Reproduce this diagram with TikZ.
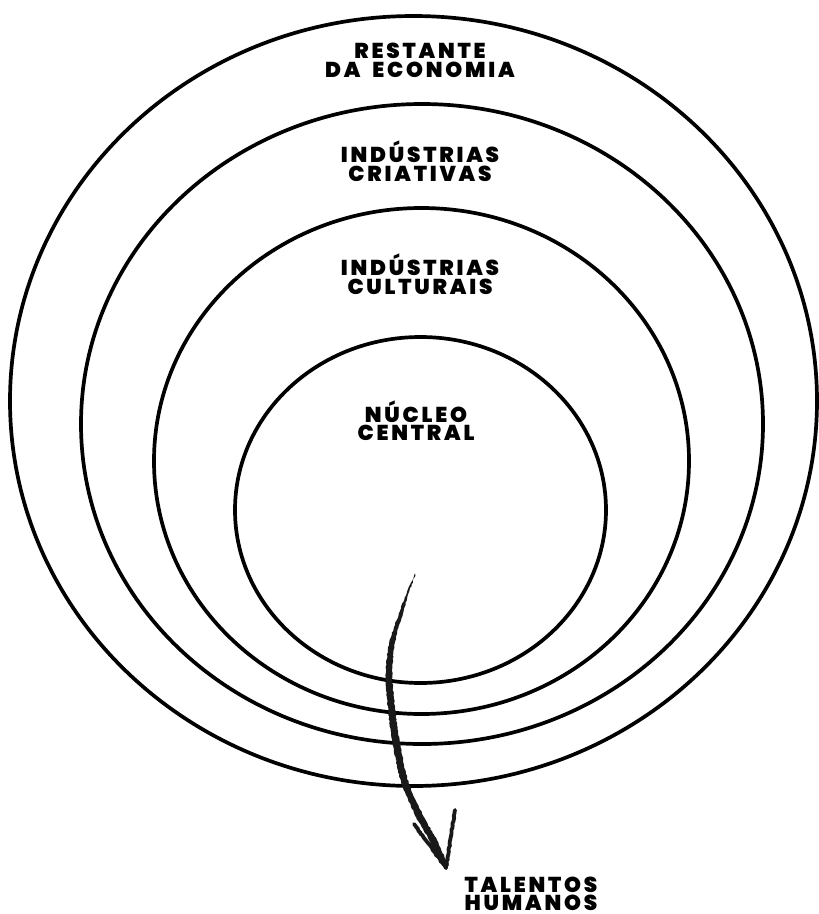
\documentclass[tikz,border=0pt]{standalone}
\usepackage{fontspec}
\usetikzlibrary{decorations.pathmorphing}
\IfFontExistsTF{Poppins Black}{%
  \newfontfamily\lblbase{Poppins Black}[LetterSpace=13]
  \newcommand\lblfont{\lblbase}%
}{%
  \newfontfamily\lblbase{Poppins}[LetterSpace=13,BoldFeatures={FakeBold=2.5}]
  \newcommand\lblfont{\lblbase\bfseries}%
}
\newcommand\wsp{\hspace{0.55em}}
\tikzset{
  ring/.style={draw=black, line width=3.7pt},
  lbl/.style={font=\lblfont\fontsize{21.5}{19}\selectfont, anchor=base, inner sep=0pt},
  chalk/.style={decorate, decoration={random steps, segment length=2pt, amplitude=0.5pt}},
  barb/.style={chalk, draw=black!90, line width=3.8pt, line cap=round}
}
\begin{document}
\begin{tikzpicture}[x=1pt,y=-1pt]
\useasboundingbox (0,0) rectangle (819,914);
% rings
\draw[ring] (413.5,401) ellipse [x radius=403.5pt, y radius=385pt];
\draw[ring] (422,424) ellipse [x radius=341pt, y radius=320pt];
\draw[ring] (421.5,461) ellipse [x radius=267.5pt, y radius=253pt];
\draw[ring] (420.5,510) ellipse [x radius=185.5pt, y radius=173pt];
% labels
\node[lbl] (restante) at (420,58) {RESTANTE};
\node[lbl] (economia) at (420,77) {DA\wsp ECONOMIA};
\node[lbl] (indcri) at (420,162) {INDÚSTRIAS};
\node[lbl] (criativas) at (420,181) {CRIATIVAS};
\node[lbl] (indcul) at (420,275) {INDÚSTRIAS};
\node[lbl] (culturais) at (420,294) {CULTURAIS};
\node[lbl] (nucleo) at (416,422) {NÚCLEO};
\node[lbl] (central) at (416,440) {CENTRAL};
\node[lbl] (talentos) at (531,892) {TALENTOS};
\node[lbl] (humanos) at (531,910) {HUMANOS};
% arrow
\coordinate (astart) at (415,575);
\coordinate (tip) at (446,868);
\fill[black!90, chalk]
  plot[smooth] coordinates {(414.7,575) (407,592) (400.2,610) (389.2,643) (385.6,677) (388.4,713) (393.4,747) (401.3,783) (416.1,817) (429.1,840) (443.3,866)}
  -- plot[smooth] coordinates {(448.7,866) (436.9,840) (423.9,817) (408.7,783) (400.6,747) (395.6,713) (392.4,677) (394.8,643) (403.8,610) (409,592) (415.3,575)}
  -- cycle;
\draw[barb] (455,810) -- (tip);
\draw[barb] (414,824) -- (tip);
\end{tikzpicture}
\end{document}
